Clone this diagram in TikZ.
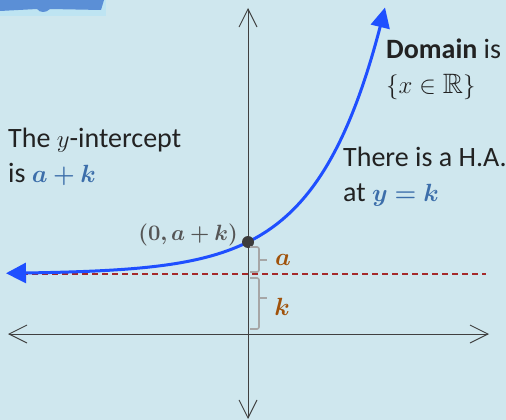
\documentclass[tikz,border=0pt]{standalone}
\usepackage{fontspec}
\usepackage{amsmath,amssymb,bm}
\usepackage{graphicx}
\setmainfont{Carlito}
\usetikzlibrary{arrows.meta}
\definecolor{bg}{HTML}{CFE7EE}
\definecolor{curveblue}{HTML}{1F4FFF}
\definecolor{mathblue}{HTML}{3C6EAA}
\definecolor{axisgray}{HTML}{404040}
\definecolor{hared}{HTML}{A52A2A}
\definecolor{bracegray}{HTML}{A6A6A6}
\definecolor{lblbrown}{HTML}{A0520A}
\definecolor{txt}{HTML}{222222}
\definecolor{ptgray}{HTML}{555555}
\definecolor{lightpatch}{HTML}{BEE4F2}
\definecolor{bookblue}{HTML}{5B8FD6}
\tikzset{
  axis/.style={draw=axisgray, line width=0.9pt, {Straight Barb[length=18pt,width=18pt]}-{Straight Barb[length=18pt,width=18pt]}},
  bracepath/.style={draw=bracegray, line width=1.6pt, rounded corners=2pt},
  lbl/.style={inner sep=0pt, text=txt, align=left, anchor=base west, font=\fontsize{28}{35}\selectfont},
}
\begin{document}
\begin{tikzpicture}[x=1pt,y=-1pt]
\fill[bg] (0,0) rectangle (506,420);
\useasboundingbox (0,0) rectangle (506,420);
% top-left fragment
\fill[lightpatch] (0,0) rectangle (106,16);
\fill[bookblue] (0,0) -- (104,0) -- (101,10) -- (50,9) .. controls (46,13) and (40,13) .. (37,9) -- (0,11) -- cycle;
% axes
\coordinate (ytop) at (248,8);
\coordinate (ybot) at (248,419);
\coordinate (xl) at (8,334);
\coordinate (xr) at (489,334);
\draw[axis] (ybot) -- (ytop);
\draw[axis] (xl) -- (xr);
% asymptote
\coordinate (hal) at (22,274);
\coordinate (har) at (486,274);
\draw[hared, line width=1.1pt, dash pattern=on 6pt off 4pt] (hal) -- (har);
% curve
\draw[curveblue, line width=3pt, {Triangle[length=20pt,width=20pt]}-{Triangle[length=20pt,width=19pt]}]
  plot[domain=6:385, samples=120, smooth] (\x, {274-32*exp(0.01548*(\x-248))});
% intercept dot
\node[circle, fill=ptgray!70!black, inner sep=0pt, minimum size=12pt] (dot) at (248,242) {};
\node[inner sep=0pt, anchor=base east, text=ptgray, font=\fontsize{22}{26}\selectfont] (pt) at (238,240) {\scalebox{1.066}{$\bm{(0,a+k)}$}};
% braces
\draw[bracepath] (250,247) -- (259,247) -- (259,272) -- (250,272);
\draw[bracepath] (259,260) -- (267,260);
\draw[bracepath] (250,278) -- (259,278) -- (259,329) -- (250,329);
\draw[bracepath] (259,298) -- (267,298);
\node[inner sep=0pt, anchor=base, text=lblbrown, font=\fontsize{27}{30}\selectfont] (la) at (283,265) {$\bm{a}$};
\node[inner sep=0pt, anchor=base, text=lblbrown, font=\fontsize{27}{30}\selectfont] (lk) at (282,315) {$\bm{k}$};
% texts (base anchor = baseline of last line)
\node[lbl] (t1) at (8,182) {The $y$-intercept\\is \textcolor{mathblue}{$\bm{a+k}$}};
\node[lbl] (t2) at (386,93) {\textbf{Domain} is\\$\{x\in\mathbb{R}\}$};
\node[lbl] (t3) at (343,201) {There is a H.A.\\at \textcolor{mathblue}{$\bm{y=k}$}};
\end{tikzpicture}
\end{document}
